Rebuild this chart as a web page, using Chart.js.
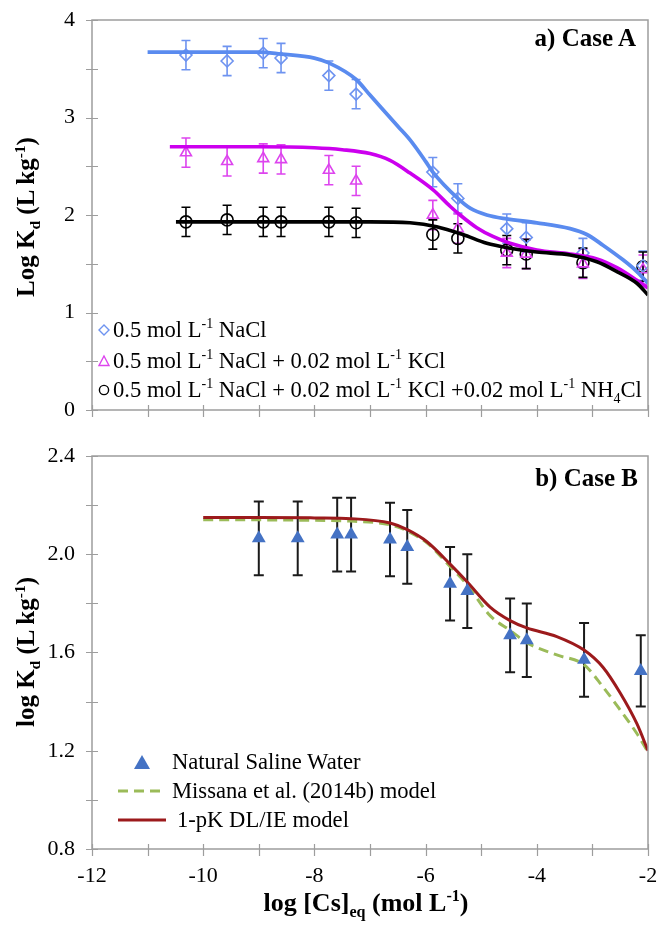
<!DOCTYPE html>
<html>
<head>
<meta charset="utf-8">
<script src="https://cdn.jsdelivr.net/npm/chart.js@4.4.1/dist/chart.umd.min.js"></script>
<style>
  body { margin: 0; background: #fff; }
  #wrap { position: relative; width: 657px; height: 928px; font-family: 'Liberation Serif', 'Times New Roman', serif; color: #000; }
  canvas { position: absolute; left: 0; }
  sub, sup { font-size: 0.62em; line-height: 0; }
  .ytitle { position: absolute; font-weight: bold; font-size: 25px; white-space: nowrap; transform: translate(-50%, -50%) rotate(-90deg); }
  .xtitle { position: absolute; font-weight: bold; font-size: 26px; white-space: nowrap; transform: translate(-50%, -50%); }
  .case { position: absolute; font-weight: bold; font-size: 25px; line-height: 30px; white-space: nowrap; }
  .leg { position: absolute; font-size: 22.6px; line-height: 30px; height: 30px; white-space: nowrap; display: flex; align-items: center; }
  .leg svg { flex: none; }
</style>
</head>
<body>
<div id="wrap">
  <canvas id="chartA" width="657" height="440" style="top:0"></canvas>
  <canvas id="chartB" width="657" height="488" style="top:440px"></canvas>

  <div class="case" style="right:21px; top:23px;">a) Case A</div>
  <div class="case" style="right:19px; top:463px;">b) Case B</div>

  <div class="ytitle" style="left:26px; top:217px;">Log K<sub>d</sub> (L kg<sup>-1</sup>)</div>
  <div class="ytitle" style="left:26px; top:652px;">log K<sub>d</sub> (L kg<sup>-1</sup>)</div>
  <div class="xtitle" style="left:366px; top:903px;">log [Cs]<sub>eq</sub> (mol L<sup>-1</sup>)</div>

  <!-- legend, case A -->
  <div class="leg" style="left:97px; top:315px;">
    <svg width="14" height="14"><path d="M7 2 L12 7 L7 12 L2 7 Z" fill="none" stroke="#6e93f0" stroke-width="1.4"/></svg>
    <span style="margin-left:2px">0.5 mol L<sup>-1</sup> NaCl</span>
  </div>
  <div class="leg" style="left:97px; top:346px;">
    <svg width="14" height="14"><path d="M7 2 L12 11.5 L2 11.5 Z" fill="none" stroke="#dd44ee" stroke-width="1.4"/></svg>
    <span style="margin-left:2px">0.5 mol L<sup>-1</sup> NaCl + 0.02 mol L<sup>-1</sup> KCl</span>
  </div>
  <div class="leg" style="left:97px; top:375px;">
    <svg width="14" height="14"><circle cx="7" cy="7" r="4.6" fill="none" stroke="#000" stroke-width="1.4"/></svg>
    <span style="margin-left:2px">0.5 mol L<sup>-1</sup> NaCl + 0.02 mol L<sup>-1</sup> KCl +0.02 mol L<sup>-1</sup> NH<sub>4</sub>Cl</span>
  </div>

  <!-- legend, case B -->
  <div class="leg" style="left:117px; top:747px;">
    <svg width="50" height="20"><path d="M25 3 L33 17 L17 17 Z" fill="#4472c4"/></svg>
    <span style="margin-left:5px">Natural Saline Water</span>
  </div>
  <div class="leg" style="left:117px; top:776px;">
    <svg width="50" height="20"><line x1="1" y1="10" x2="49" y2="10" stroke="#9bbb59" stroke-width="3" stroke-dasharray="10 6"/></svg>
    <span style="margin-left:5px">Missana et al. (2014b) model</span>
  </div>
  <div class="leg" style="left:117px; top:805px;">
    <svg width="50" height="20"><line x1="1" y1="10" x2="49" y2="10" stroke="#9c1a1c" stroke-width="3"/></svg>
    <span style="margin-left:10px">1-pK DL/IE model</span>
  </div>
</div>

<script>
// ---- Case A: measured points (log [Cs]eq vs log Kd) ----
const xA = [-10.31, -9.57, -8.92, -8.6, -7.74, -7.25, -5.87, -5.42, -4.54, -4.19, -3.17, -2.09];
const nacl = [3.64, 3.58, 3.66, 3.61, 3.43, 3.24, 2.44, 2.17, 1.86, 1.77, 1.61, 1.48];
const naclKcl = [2.64, 2.55, 2.58, 2.57, 2.46, 2.35, 2.00, 1.86, 1.61, 1.60, 1.50, 1.44];
const naclKclNh4 = [1.93, 1.95, 1.93, 1.93, 1.93, 1.92, 1.80, 1.76, 1.64, 1.60, 1.51, 1.47];
const errA = [0.15, 0.15, 0.15, 0.15, 0.15, 0.15, 0.15, 0.15, 0.15, 0.15, 0.15, 0.15];

// ---- Case A: model curves ----
const naclFitX = [-11, -10, -9, -8.6, -8, -7.74, -7.25, -7, -6.5, -6.28, -6, -5.87, -5.42, -5.2, -4.9, -4.54, -4, -3.4, -3.1, -2.81, -2.45, -2.2, -2];
const naclFitY = [3.67, 3.67, 3.67, 3.65, 3.61, 3.56, 3.39, 3.23, 2.91, 2.77, 2.55, 2.44, 2.17, 2.07, 2.0, 1.96, 1.92, 1.86, 1.8, 1.69, 1.54, 1.42, 1.3];
const kclFitX = [-10.6, -9, -8, -7.5, -7, -6.64, -6.28, -5.87, -5.56, -5.38, -5.08, -4.79, -4.48, -4, -3.4, -2.92, -2.56, -2.2, -2];
const kclFitY = [2.7, 2.7, 2.69, 2.67, 2.63, 2.56, 2.43, 2.26, 2.09, 2.0, 1.87, 1.78, 1.71, 1.64, 1.6, 1.55, 1.46, 1.33, 1.25];
const nh4FitX = [-10.49, -8, -7, -6.28, -5.8, -5.33, -4.9, -4.48, -4, -3.4, -2.92, -2.56, -2.2, -2];
const nh4FitY = [1.93, 1.93, 1.93, 1.92, 1.88, 1.8, 1.71, 1.66, 1.62, 1.59, 1.52, 1.42, 1.3, 1.18];

// ---- Case B: natural saline water ----
const xB = [-9.0, -8.3, -7.59, -7.34, -6.64, -6.33, -5.56, -5.25, -4.48, -4.18, -3.15, -2.13];
const saline = [2.065, 2.065, 2.08, 2.08, 2.06, 2.03, 1.88, 1.85, 1.67, 1.65, 1.57, 1.525];
const errB = [0.15, 0.15, 0.15, 0.15, 0.15, 0.15, 0.15, 0.15, 0.15, 0.15, 0.15, 0.145];

const modelX = [-10, -9, -8, -7.34, -6.64, -6.33, -5.97, -5.56, -5.25, -4.84, -4.48, -4.18, -3.64, -3.15, -2.81, -2.5, -2.2, -2];
const missana = [2.14, 2.14, 2.138, 2.135, 2.12, 2.095, 2.045, 1.95, 1.875, 1.75, 1.69, 1.64, 1.59, 1.55, 1.46, 1.366, 1.27, 1.195];
const dlie = [2.15, 2.15, 2.148, 2.145, 2.127, 2.1, 2.05, 1.96, 1.887, 1.785, 1.73, 1.7, 1.665, 1.61, 1.54, 1.435, 1.31, 1.2];

const pts = (xs, ys) => xs.map((x, i) => ({ x: x, y: ys[i] }));

Chart.defaults.font.family = "'Liberation Serif', 'Times New Roman', serif";
Chart.defaults.font.size = 22;
Chart.defaults.color = '#000';

// grey box round the plot plus ticks that cross the axis lines
const frameTicks = {
  id: 'frameTicks',
  afterDraw(chart) {
    const { ctx, chartArea: a, scales } = chart;
    ctx.save();
    ctx.strokeStyle = '#9d9d9d';
    ctx.lineWidth = 1.5;
    ctx.strokeRect(a.left, a.top, a.right - a.left, a.bottom - a.top);
    ctx.lineWidth = 1.2;
    ctx.beginPath();
    scales.x.ticks.forEach(t => {
      const px = Math.round(scales.x.getPixelForValue(t.value)) + 0.5;
      ctx.moveTo(px, a.bottom - 5);
      ctx.lineTo(px, a.bottom + 7);
    });
    scales.y.ticks.forEach(t => {
      const py = Math.round(scales.y.getPixelForValue(t.value)) + 0.5;
      ctx.moveTo(a.left - 6, py);
      ctx.lineTo(a.left + 6, py);
    });
    ctx.stroke();
    ctx.restore();
  }
};

// vertical error bars with caps, taken from dataset.errors
const errorBars = {
  id: 'errorBars',
  beforeDatasetsDraw(chart) {
    const { ctx, scales: { x, y } } = chart;
    chart.data.datasets.forEach(ds => {
      if (!ds.errors) return;
      ctx.save();
      ctx.strokeStyle = ds.errColor;
      ctx.lineWidth = ds.errWidth;
      ctx.beginPath();
      ds.data.forEach((p, i) => {
        const px = x.getPixelForValue(p.x);
        const hi = y.getPixelForValue(p.y + ds.errors[i]);
        const lo = y.getPixelForValue(p.y - ds.errors[i]);
        ctx.moveTo(px, hi); ctx.lineTo(px, lo);
        ctx.moveTo(px - ds.errCap, hi); ctx.lineTo(px + ds.errCap, hi);
        ctx.moveTo(px - ds.errCap, lo); ctx.lineTo(px + ds.errCap, lo);
      });
      ctx.stroke();
      ctx.restore();
    });
  }
};

// fixed axis boxes so both panels share the same plot edges
const fitX = h => s => { s.height = h; s.paddingLeft = 0; s.paddingRight = 0; };
const fitY = w => s => { s.width = w; s.paddingTop = 0; s.paddingBottom = 0; };

function curve(data, color, width, dash) {
  return {
    data: data, showLine: true, pointRadius: 0, borderColor: color, borderWidth: width,
    borderDash: dash || [], cubicInterpolationMode: 'monotone', fill: false
  };
}

function markers(data, style, color, radius, filled, errors, errColor, errWidth, errCap) {
  return {
    data: data, showLine: false, pointStyle: style, pointRadius: radius,
    pointBorderColor: color, pointBackgroundColor: filled ? color : 'rgba(0,0,0,0)',
    pointBorderWidth: filled ? 0 : 1.6,
    errors: errors, errColor: errColor, errWidth: errWidth, errCap: errCap
  };
}

const ctxA = document.getElementById('chartA').getContext('2d');
new Chart(ctxA, {
  type: 'scatter',
  data: {
    datasets: [
      curve(pts(nh4FitX, nh4FitY), '#000000', 3.6),
      curve(pts(kclFitX, kclFitY), '#cc00ee', 3.6),
      curve(pts(naclFitX, naclFitY), '#5a8bef', 3.8),
      markers(pts(xA, nacl), 'rectRot', '#6e93f0', 6, false, errA, '#6e93f0', 1.6, 4.5),
      markers(pts(xA, naclKcl), 'triangle', '#dd44ee', 6.3, false, errA, '#dd44ee', 1.6, 4.5),
      markers(pts(xA, naclKclNh4), 'circle', '#000000', 6, false, errA, '#000000', 1.6, 4.5)
    ]
  },
  options: {
    responsive: false,
    animation: false,
    layout: { padding: { top: 20, right: 9, bottom: 0, left: 0 } },
    plugins: { legend: { display: false }, tooltip: { enabled: false } },
    scales: {
      x: {
        type: 'linear', min: -12, max: -2,
        grid: { display: false, drawTicks: false },
        border: { display: false },
        ticks: { stepSize: 1, display: false },
        afterFit: fitX(30)
      },
      y: {
        type: 'linear', min: 0, max: 4,
        grid: { display: false, drawTicks: false },
        border: { display: false },
        ticks: {
          stepSize: 0.5, padding: 17,
          callback: v => Number.isInteger(v) ? v : ''
        },
        afterFit: fitY(92)
      }
    }
  },
  plugins: [errorBars, frameTicks]
});

const ctxB = document.getElementById('chartB').getContext('2d');
new Chart(ctxB, {
  type: 'scatter',
  data: {
    datasets: [
      markers(pts(xB, saline), 'triangle', '#4472c4', 8, true, errB, '#1a1a1a', 2, 5),
      curve(pts(modelX, dlie), '#9c1a1c', 3),
      curve(pts(modelX, missana), '#9bbb59', 3, [10, 6])
    ]
  },
  options: {
    responsive: false,
    animation: false,
    layout: { padding: { top: 16, right: 9, bottom: 0, left: 0 } },
    plugins: { legend: { display: false }, tooltip: { enabled: false } },
    scales: {
      x: {
        type: 'linear', min: -12, max: -2,
        grid: { display: false, drawTicks: false },
        border: { display: false },
        ticks: {
          stepSize: 1, padding: 14, autoSkip: false, maxRotation: 0,
          callback: v => v % 2 === 0 ? String(v) : ''
        },
        afterFit: fitX(79)
      },
      y: {
        type: 'linear', min: 0.8, max: 2.4,
        grid: { display: false, drawTicks: false },
        border: { display: false },
        ticks: {
          stepSize: 0.2, padding: 17,
          callback: v => Math.round((v - 0.8) / 0.2) % 2 === 0 ? v.toFixed(1) : ''
        },
        afterFit: fitY(92)
      }
    }
  },
  plugins: [errorBars, frameTicks]
});
</script>
</body>
</html>
